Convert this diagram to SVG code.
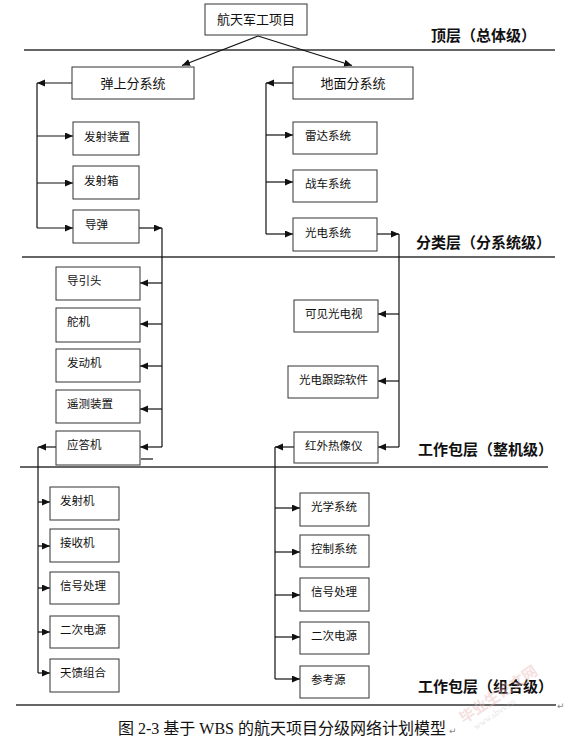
<svg xmlns="http://www.w3.org/2000/svg" width="569" height="740" viewBox="0 0 569 740">
<defs>
<marker id="ah" markerUnits="userSpaceOnUse" markerWidth="9" markerHeight="8" refX="8" refY="3.5" orient="auto">
<path d="M0,0 L8,3.5 L0,7 z" fill="#111"/>
</marker>
<style>
.box{fill:#fff;stroke:#333;stroke-width:1}
.t{font-family:"Noto Sans CJK SC","Noto Sans",sans-serif;font-size:11.5px;fill:#111}
.tb{font-family:"Noto Sans CJK SC","Noto Sans",sans-serif;font-size:13px;fill:#111;text-anchor:middle}
.lv{font-family:"Noto Sans CJK SC","Noto Sans",sans-serif;font-size:15px;font-weight:bold;fill:#111}
.sep{stroke:#333;stroke-width:1.3;fill:none}
.c{stroke:#111;stroke-width:1.2;fill:none}
.a{marker-end:url(#ah)}
</style>
</defs>
<rect width="569" height="740" fill="#fff"/>

<g id="separators">
<path class="sep" d="M24,50 H555"/>
<path class="sep" d="M22,257 H555"/>
<path class="sep" d="M20,467 H548"/>
<path class="sep" d="M16,705 H556"/>
</g>

<g id="levels">
<text class="lv" x="431" y="41">顶层（总体级）</text>
<text class="lv" x="416" y="248">分类层（分系统级）</text>
<text class="lv" x="418" y="455">工作包层（整机级）</text>
<text class="lv" x="418" y="692">工作包层（组合级）</text>
</g>

<g id="connectors">
<path class="c a" d="M258,36 L182,65.5"/>
<path class="c a" d="M258,36 L352,65.5"/>
<path class="c a" d="M72,83 H37"/>
<path class="c" d="M37,83 V228"/>
<path class="c a" d="M37,136 H73"/>
<path class="c a" d="M37,183 H73"/>
<path class="c a" d="M37,228 H73"/>
<path class="c a" d="M293,83 H266"/>
<path class="c" d="M266,83 V234"/>
<path class="c a" d="M266,135 H293"/>
<path class="c a" d="M266,182 H293"/>
<path class="c a" d="M266,234 H293"/>
<path class="c a" d="M139,228 H162"/>
<path class="c" d="M162,228 V447"/>
<path class="c a" d="M162,283 H140"/>
<path class="c a" d="M162,324 H140"/>
<path class="c a" d="M162,366 H140"/>
<path class="c a" d="M162,409 H140"/>
<path class="c a" d="M162,447 H140"/>
<path class="c" d="M141,459 H153"/>
<path class="c a" d="M377,234 H399"/>
<path class="c" d="M399,234 V447"/>
<path class="c a" d="M399,314 H378"/>
<path class="c a" d="M399,381 H378"/>
<path class="c a" d="M399,447 H378"/>
<path class="c a" d="M56,447 H38"/>
<path class="c" d="M38,447 V673"/>
<path class="c a" d="M38,502 H50"/>
<path class="c a" d="M38,546 H50"/>
<path class="c a" d="M38,588 H50"/>
<path class="c a" d="M38,632 H50"/>
<path class="c a" d="M38,673 H50"/>
<path class="c a" d="M294,447 H275"/>
<path class="c" d="M275,447 V679"/>
<path class="c a" d="M275,508 H300"/>
<path class="c a" d="M275,552 H300"/>
<path class="c a" d="M275,595 H300"/>
<path class="c a" d="M275,637 H300"/>
<path class="c a" d="M275,679 H300"/>
</g>

<g id="n-root"><rect class="box" x="205" y="4" width="102" height="31"/><text class="tb" x="256" y="24">航天军工项目</text></g>
<g id="n-dsfxt"><rect class="box" x="72" y="67" width="122" height="32"/><text class="tb" x="133" y="88">弹上分系统</text></g>
<g id="n-dmfxt"><rect class="box" x="293" y="67" width="120" height="32"/><text class="tb" x="353" y="88">地面分系统</text></g>

<g id="n-fszz"><rect class="box" x="73" y="122" width="66" height="33"/><text class="t" x="84" y="141">发射装置</text></g>
<g id="n-fsx"><rect class="box" x="73" y="166" width="66" height="33"/><text class="t" x="84" y="185">发射箱</text></g>
<g id="n-dd"><rect class="box" x="73" y="210" width="66" height="33"/><text class="t" x="85" y="229">导弹</text></g>
<g id="n-ldxt"><rect class="box" x="293" y="122" width="84" height="32"/><text class="t" x="305" y="140">雷达系统</text></g>
<g id="n-zcxt"><rect class="box" x="293" y="170" width="84" height="32"/><text class="t" x="305" y="188">战车系统</text></g>
<g id="n-gdxt"><rect class="box" x="293" y="218" width="84" height="33"/><text class="t" x="305" y="237">光电系统</text></g>

<g id="n-dyt"><rect class="box" x="56" y="267" width="84" height="33"/><text class="t" x="67" y="285">导引头</text></g>
<g id="n-dj"><rect class="box" x="56" y="308" width="84" height="34"/><text class="t" x="67" y="326">舵机</text></g>
<g id="n-fdj"><rect class="box" x="56" y="349" width="84" height="33"/><text class="t" x="67" y="367">发动机</text></g>
<g id="n-yczz"><rect class="box" x="56" y="390" width="84" height="33"/><text class="t" x="67" y="408">遥测装置</text></g>
<g id="n-ydj"><rect class="box" x="56" y="431" width="84" height="34"/><text class="t" x="67" y="449">应答机</text></g>
<g id="n-kjgds"><rect class="box" x="294" y="300" width="84" height="32"/><text class="t" x="305" y="318">可见光电视</text></g>
<g id="n-gdgzrj"><rect class="box" x="288" y="366" width="90" height="32"/><text class="t" x="299" y="384">光电跟踪软件</text></g>
<g id="n-hwrxy"><rect class="box" x="294" y="432" width="84" height="31"/><text class="t" x="305" y="450">红外热像仪</text></g>

<g id="n-fsj"><rect class="box" x="50" y="487" width="69" height="33"/><text class="t" x="60" y="505">发射机</text></g>
<g id="n-jsj"><rect class="box" x="50" y="529" width="69" height="33"/><text class="t" x="60" y="547">接收机</text></g>
<g id="n-xhcl1"><rect class="box" x="50" y="572" width="69" height="32"/><text class="t" x="60" y="590">信号处理</text></g>
<g id="n-ecdy1"><rect class="box" x="50" y="616" width="69" height="32"/><text class="t" x="60" y="634">二次电源</text></g>
<g id="n-tkzh"><rect class="box" x="50" y="659" width="69" height="33"/><text class="t" x="60" y="677">天馈组合</text></g>
<g id="n-gxxt"><rect class="box" x="300" y="493" width="69" height="33"/><text class="t" x="311" y="511">光学系统</text></g>
<g id="n-kzxt"><rect class="box" x="300" y="535" width="69" height="32"/><text class="t" x="311" y="553">控制系统</text></g>
<g id="n-xhcl2"><rect class="box" x="300" y="578" width="69" height="33"/><text class="t" x="311" y="596">信号处理</text></g>
<g id="n-ecdy2"><rect class="box" x="300" y="622" width="69" height="32"/><text class="t" x="311" y="640">二次电源</text></g>
<g id="n-cky"><rect class="box" x="300" y="666" width="69" height="32"/><text class="t" x="311" y="684">参考源</text></g>

<g id="caption">
<text x="118" y="734" style="font-family:'Liberation Serif','Noto Sans CJK SC',serif;font-size:16px;fill:#111">图 2-3 基于 WBS 的航天项目分级网络计划模型</text>
<text x="449" y="734" style="font-family:'DejaVu Sans',sans-serif;font-size:9px;fill:#888">↵</text>
<text x="557" y="709" style="font-family:'DejaVu Sans',sans-serif;font-size:9px;fill:#888">↵</text>
</g>

<g id="watermark" opacity="0.4">
<text transform="translate(464,724) rotate(-34)" style="font-family:'Noto Sans CJK SC',sans-serif;font-size:15px;font-weight:bold;fill:#e8b4b4">毕业生论文网</text>
<text transform="translate(476,730) rotate(-34)" style="font-family:'Liberation Serif',serif;font-size:9px;fill:#c0c0cc">www.sbvv.cn</text>
</g>
</svg>
